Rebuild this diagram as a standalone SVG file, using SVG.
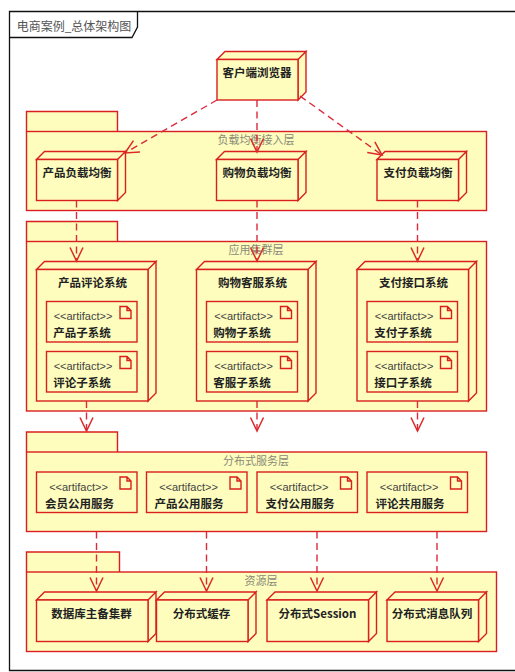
<svg xmlns="http://www.w3.org/2000/svg" width="515" height="672" viewBox="0 0 515 672">
<style>
text{font-family:"Noto Sans CJK SC","Liberation Sans",sans-serif}
.f{fill:#FEFDBE;stroke:#D91F1F;stroke-width:1.4}
.fr{fill:none;stroke:#111;stroke-width:1.3}
.t{font-size:11.500px;font-weight:700;fill:#222;text-anchor:middle}
.a{font-family:"Liberation Sans",Arial,sans-serif;font-size:11px;fill:#444;text-anchor:middle}
.p{font-size:11px;fill:#8a8a78;text-anchor:middle}
.c{fill:none;stroke:#DC2A3A;stroke-width:1.4;stroke-dasharray:7 4.500;marker-end:url(#o)}
</style>
<defs>
<marker id="o" markerUnits="userSpaceOnUse" markerWidth="18" markerHeight="18" refX="15" refY="9" orient="auto"><path d="M1.500 2.500L15 9L1.500 15.500" fill="none" stroke="#DC2A2A" stroke-width="1.500"/></marker>
<g id="ic"><path class="f" d="M-17 5h7l4 4v8h-11zM-10 5v4h4"/></g>
</defs>
<rect width="515" height="672" fill="#fff"/>
<g id="frame">
<path class="fr" d="M515 11.500H9.500V670.500H515"/>
<path class="fr" d="M9.500 37.500H132L137.500 27V11.500"/>
<text x="74" y="31" style="font-size:12px;fill:#555;text-anchor:middle">电商案例_总体架构图</text>
</g>
<g id="pkg-lb"><path class="f" d="M26.500 131.500V111.500H117.500V131.500"/><rect class="f" x="26.500" y="131.500" width="460" height="79"/><text class="p" x="256" y="144">负载均衡接入层</text></g>
<g id="pkg-app"><path class="f" d="M26.500 241.500V221.500H117.500V241.500"/><rect class="f" x="26.500" y="241.500" width="460" height="169.500"/><text class="p" x="256" y="254">应用集群层</text></g>
<g id="pkg-svc"><path class="f" d="M26.500 452V432H117.500V452"/><rect class="f" x="26.500" y="452" width="460" height="79.500"/><text class="p" x="256" y="465">分布式服务层</text></g>
<g id="pkg-res"><path class="f" d="M26.500 572V552H119.500V572"/><rect class="f" x="26.500" y="572" width="470" height="79.500"/><text class="p" x="261" y="585">资源层</text></g>

<g id="client"><path class="f" d="M217 59.500L225 51.500H306L298 59.500ZM298 59.500L306 51.500V92L298 100Z"/><rect class="f" x="217" y="59.500" width="81" height="40.500"/><text class="t" x="257" y="76.500">客户端浏览器</text></g>
<g id="lb1"><path class="f" d="M36.500 159.500L44.500 151.500H125.500L117.500 159.500ZM117.500 159.500L125.500 151.500V192.500L117.500 200.500Z"/><rect class="f" x="36.500" y="159.500" width="81" height="41"/><text class="t" x="77" y="176.500">产品负载均衡</text></g>
<g id="lb2"><path class="f" d="M216.500 159.500L224.500 151.500H306L298 159.500ZM298 159.500L306 151.500V192.500L298 200.500Z"/><rect class="f" x="216.500" y="159.500" width="81.500" height="41"/><text class="t" x="257" y="176.500">购物负载均衡</text></g>
<g id="lb3"><path class="f" d="M377 159.500L385 151.500H466.500L458.500 159.500ZM458.500 159.500L466.500 151.500V192.500L458.500 200.500Z"/><rect class="f" x="377" y="159.500" width="81.500" height="41"/><text class="t" x="418" y="176.500">支付负载均衡</text></g>

<g id="app1"><path class="f" d="M36.500 269.500L44.500 261.500H156L148 269.500ZM148 269.500L156 261.500V393L148 401Z"/><rect class="f" x="36.500" y="269.500" width="111.500" height="131.500"/><text class="t" x="92.500" y="287">产品评论系统</text></g>
<g id="app1a"><rect class="f" x="46.500" y="301.500" width="90.500" height="40.500"/><use href="#ic" x="137" y="301.500"/><text class="a" x="83" y="320">&lt;&lt;artifact&gt;&gt;</text><text class="t" x="82" y="337">产品子系统</text></g>
<g id="app1b"><rect class="f" x="46.500" y="351.500" width="90.500" height="40.500"/><use href="#ic" x="137" y="351.500"/><text class="a" x="83" y="370">&lt;&lt;artifact&gt;&gt;</text><text class="t" x="82" y="387">评论子系统</text></g>
<g id="app2"><path class="f" d="M196.500 269.500L204.500 261.500H316L308 269.500ZM308 269.500L316 261.500V393L308 401Z"/><rect class="f" x="196.500" y="269.500" width="111.500" height="131.500"/><text class="t" x="252.500" y="287">购物客服系统</text></g>
<g id="app2a"><rect class="f" x="206.500" y="301.500" width="91" height="40.500"/><use href="#ic" x="297.500" y="301.500"/><text class="a" x="243.500" y="320">&lt;&lt;artifact&gt;&gt;</text><text class="t" x="242" y="337">购物子系统</text></g>
<g id="app2b"><rect class="f" x="206.500" y="351.500" width="91" height="40.500"/><use href="#ic" x="297.500" y="351.500"/><text class="a" x="243.500" y="370">&lt;&lt;artifact&gt;&gt;</text><text class="t" x="242" y="387">客服子系统</text></g>
<g id="app3"><path class="f" d="M357 269.500L365 261.500H476.500L468.500 269.500ZM468.500 269.500L476.500 261.500V393L468.500 401Z"/><rect class="f" x="357" y="269.500" width="111.500" height="131.500"/><text class="t" x="413.500" y="287">支付接口系统</text></g>
<g id="app3a"><rect class="f" x="367" y="301.500" width="90.500" height="40.500"/><use href="#ic" x="457.500" y="301.500"/><text class="a" x="404" y="320">&lt;&lt;artifact&gt;&gt;</text><text class="t" x="403" y="337">支付子系统</text></g>
<g id="app3b"><rect class="f" x="367" y="351.500" width="90.500" height="40.500"/><use href="#ic" x="457.500" y="351.500"/><text class="a" x="404" y="370">&lt;&lt;artifact&gt;&gt;</text><text class="t" x="403" y="387">接口子系统</text></g>

<g id="svc1"><rect class="f" x="36.500" y="472" width="100.500" height="40.500"/><use href="#ic" x="137" y="472"/><text class="a" x="78.500" y="491">&lt;&lt;artifact&gt;&gt;</text><text class="t" x="79.500" y="507.500">会员公用服务</text></g>
<g id="svc2"><rect class="f" x="146.500" y="472" width="100.500" height="40.500"/><use href="#ic" x="247" y="472"/><text class="a" x="188.500" y="491">&lt;&lt;artifact&gt;&gt;</text><text class="t" x="189" y="507.500">产品公用服务</text></g>
<g id="svc3"><rect class="f" x="257" y="472" width="100.500" height="40.500"/><use href="#ic" x="357.500" y="472"/><text class="a" x="299" y="491">&lt;&lt;artifact&gt;&gt;</text><text class="t" x="300" y="507.500">支付公用服务</text></g>
<g id="svc4"><rect class="f" x="367" y="472" width="100.500" height="40.500"/><use href="#ic" x="467.500" y="472"/><text class="a" x="409" y="491">&lt;&lt;artifact&gt;&gt;</text><text class="t" x="410" y="507.500">评论共用服务</text></g>

<g id="res1"><path class="f" d="M36.500 600L44.500 592H156L148 600ZM148 600L156 592V633.500L148 641.500Z"/><rect class="f" x="36.500" y="600" width="111.500" height="41.500"/><text class="t" x="91.500" y="617.500">数据库主备集群</text></g>
<g id="res2"><path class="f" d="M156.500 600L164.500 592H256L248 600ZM248 600L256 592V633.500L248 641.500Z"/><rect class="f" x="156.500" y="600" width="91.500" height="41.500"/><text class="t" x="201.500" y="617.500">分布式缓存</text></g>
<g id="res3"><path class="f" d="M267 600L275 592H376.500L368.500 600ZM368.500 600L376.500 592V633.500L368.500 641.500Z"/><rect class="f" x="267" y="600" width="101.500" height="41.500"/><text class="t" x="317.500" y="617.500">分布式Session</text></g>
<g id="res4"><path class="f" d="M387 600L395 592H486.500L478.500 600ZM478.500 600L486.500 592V633.500L478.500 641.500Z"/><rect class="f" x="387" y="600" width="91.500" height="41.500"/><text class="t" x="432" y="617.500">分布式消息队列</text></g>

<g id="connectors">
<path class="c" d="M217 100L125 153"/>
<path class="c" d="M257 100V152"/>
<path class="c" d="M300 96L382 155"/>
<path class="c" d="M76.500 200.500V261"/>
<path class="c" d="M257 200.500V261"/>
<path class="c" d="M417.500 200.500V261"/>
<path class="c" d="M86.500 401V431"/>
<path class="c" d="M257 401V431"/>
<path class="c" d="M417.500 401V431"/>
<path class="c" d="M96.500 531.500V591"/>
<path class="c" d="M206.500 531.500V591"/>
<path class="c" d="M317 531.500V591"/>
<path class="c" d="M437 531.500V591"/>
</g>
</svg>
